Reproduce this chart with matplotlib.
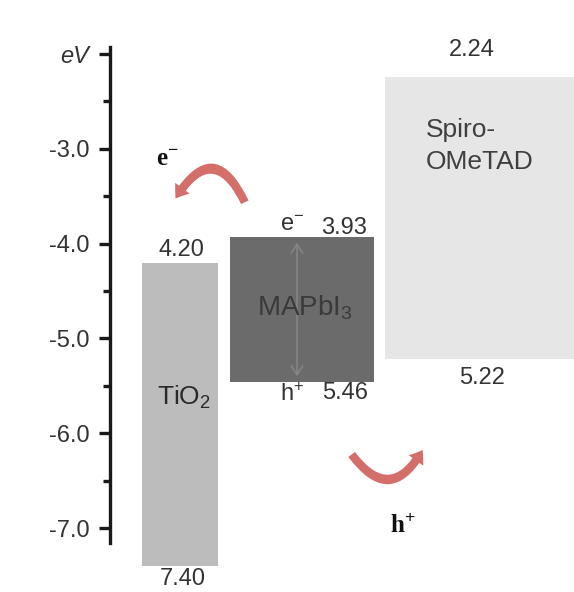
import matplotlib
matplotlib.use("Agg")
import matplotlib.pyplot as plt
from matplotlib.patches import FancyArrowPatch

plt.rcParams['font.family'] = ['Liberation Sans', 'DejaVu Sans']
plt.rcParams['mathtext.fontset'] = 'custom'
plt.rcParams['mathtext.rm'] = 'Liberation Sans'
plt.rcParams['mathtext.it'] = 'Liberation Sans:italic'

# Energy levels (eV below vacuum)
materials = ["TiO2", "MAPbI3", "Spiro-OMeTAD"]
upper = [4.20, 3.93, 2.24]   # CB / LUMO
lower = [7.40, 5.46, 5.22]   # VB / HOMO
major_ticks = [-2.0, -3.0, -4.0, -5.0, -6.0, -7.0]
major_labels = ["eV", "-3.0", "-4.0", "-5.0", "-6.0", "-7.0"]
minor_ticks = [-2.5, -3.5, -4.5, -5.5, -6.5]

# Plot -----------------------------------------------------------------------
W, H = 574, 592
fig = plt.figure(figsize=(W / 100, H / 100), dpi=100)
ax = fig.add_axes([0, 0, 1, 1])
ax.set_xlim(0, W)
ax.set_ylim(-7.675, -1.430)

bar_x = [(142, 218), (230, 374), (385, 574)]
bar_colors = ["#bcbcbc", "#6b6b6b", "#e6e6e6"]
for (x0, x1), top, bot, c in zip(bar_x, upper, lower, bar_colors):
    ax.bar((x0 + x1) / 2, bot - top, bottom=-bot, width=x1 - x0, color=c,
           edgecolor="none", zorder=1)

num_kw = dict(fontsize=17, color="#333333", ha="center", va="center")
# TiO2
ax.text(181, -upper[0] + 0.13, f"{upper[0]:.2f}", **num_kw)
ax.text(183, -lower[0] - 0.14, f"{lower[0]:.2f}", **num_kw)
ax.text(184, -5.62, r"TiO$_{\mathregular{2}}$", fontsize=19, color="#2a2a2a",
        ha="center", va="center")
# MAPbI3
ax.text(344, -upper[1] + 0.1, f"{upper[1]:.2f}", **num_kw)
ax.text(292, -upper[1] + 0.13, r"e$^{-}$", **num_kw)
ax.text(345, -lower[1] - 0.12, f"{lower[1]:.2f}", **num_kw)
ax.text(292, -lower[1] - 0.13, r"h$^{+}$", **num_kw)
ax.text(305, -4.68, r"MAPbI$_{\mathregular{3}}$", fontsize=20, color="#3a3a3a",
        ha="center", va="center")
ax.add_patch(FancyArrowPatch((297, -upper[1] - 0.03), (297, -lower[1] + 0.03),
                             arrowstyle="<->,head_length=6,head_width=4",
                             color="#8a8a8a", lw=1.5, alpha=0.7, zorder=2))
# Spiro-OMeTAD
ax.text(472, -upper[2] + 0.28, f"{upper[2]:.2f}", **num_kw)
ax.text(482, -lower[2] - 0.2, f"{lower[2]:.2f}", **num_kw)
ax.text(426, -2.97, "Spiro-\nOMeTAD", fontsize=19, color="#404040",
        ha="left", va="center", linespacing=1.45)

# charge transfer arrows
arrow_color = "#cc5550"
style = "simple,head_width=13,head_length=9,tail_width=6"
ax.add_patch(FancyArrowPatch((246, -3.59), (174, -3.55), connectionstyle="arc3,rad=0.95",
                             arrowstyle=style, color=arrow_color, alpha=0.85,
                             lw=0, zorder=3))
ax.add_patch(FancyArrowPatch((350, -6.20), (424, -6.15), connectionstyle="arc3,rad=0.8",
                             arrowstyle=style, color=arrow_color, alpha=0.85,
                             lw=0, zorder=3))
ax.text(167, -3.11, r"e$^{-}$", fontsize=18, fontweight="bold", color="#111111",
        family=["Liberation Serif", "DejaVu Serif"], ha="center", va="center")
ax.text(403, -6.98, r"h$^{+}$", fontsize=18, fontweight="bold", color="#111111",
        family=["Liberation Serif", "DejaVu Serif"], ha="center", va="center")

# Formatting -----------------------------------------------------------------
for s in ["top", "right", "bottom"]:
    ax.spines[s].set_visible(False)
ax.spines["left"].set_position(("data", 110))
ax.spines["left"].set_bounds(-7.158, -1.926)
ax.spines["left"].set_linewidth(2.4)
ax.spines["left"].set_color("#1a1a1a")
ax.set_xticks([])
ax.set_yticks(major_ticks)
ax.set_yticklabels(major_labels)
ax.set_yticks(minor_ticks, minor=True)
ax.tick_params(axis="y", which="major", length=8, width=2.4, color="#1a1a1a",
               labelsize=17, labelcolor="#333333", pad=7)
ax.tick_params(axis="y", which="minor", length=5, width=2.4, color="#1a1a1a")
ax.get_yticklabels()[0].set_fontstyle("italic")
ax.patch.set_alpha(0)

fig.savefig("out.png", dpi=100)
